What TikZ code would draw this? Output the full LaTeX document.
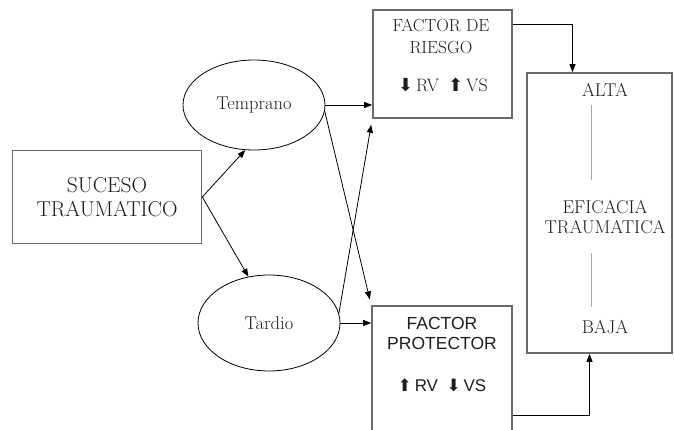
\documentclass[tikz,border=0pt]{standalone}
\usepackage{fontspec}
\newfontfamily\protfont{Liberation Sans}
\newfontfamily\arrfont{DejaVu Sans}
\usetikzlibrary{shapes.geometric,arrows.meta}

\definecolor{diagLine}{HTML}{6A6A6A}
\definecolor{diagText}{HTML}{1E1E1E}
\definecolor{diagScale}{HTML}{A8A8A8}

\newcommand{\arrDn}{{\arrfont ⬇}}
\newcommand{\arrUp}{{\arrfont ⬆}}

\begin{document}
\begin{tikzpicture}[x=1pt,y=-1pt,
  box/.style={draw=diagLine,line width=1.6pt,inner sep=0pt},
  oval/.style={draw=black,ellipse,line width=0.8pt,inner sep=0pt,text=diagText},
  arr/.style={-{Triangle[length=8pt,width=6pt]},line width=0.8pt},
  lbl/.style={text=diagText,align=center,inner sep=0pt},
  scaleline/.style={draw=diagScale,line width=0.8pt}]

  \useasboundingbox (0,0) rectangle (674,430);
  \clip (0,0) rectangle (674,430);

  % Boxes
  \node[box,lbl,minimum width=189,minimum height=93,
    font=\fontsize{21.5}{24}\selectfont] (suceso) at (107,197)
    {SUCESO\\TRAUMATICO};

  \node[box,minimum width=139,minimum height=108] (riesgo) at (442.5,64) {};
  \node[box,minimum width=140,minimum height=148] (protector) at (442,380) {};
  \node[box,minimum width=145,minimum height=280] (eficacia) at (599.5,213) {};

  % Ellipses
  \node[oval,minimum width=142,minimum height=90,
    font=\fontsize{18.5}{20}\selectfont] (temprano) at (254,105) {Temprano};
  \node[oval,minimum width=142,minimum height=96,
    font=\fontsize{18.5}{20}\selectfont] (tardio) at (269,323) {Tardio};

  % Box texts
  \node[lbl,font=\fontsize{17.5}{22}\selectfont] (riesgoname) at (441,36)
    {FACTOR DE\\RIESGO};
  \node[lbl,font=\fontsize{18}{19}\selectfont] (riesgoval) at (443,85)
    {\arrDn\,RV\enspace\arrUp\,VS};

  \node[lbl,font=\protfont\fontsize{17.5}{20}\selectfont] (protname) at (442,333)
    {FACTOR\\PROTECTOR};
  \node[lbl,font=\protfont\fontsize{17}{19}\selectfont] (protval) at (442,385)
    {\arrUp\,RV\enspace\arrDn\,VS};

  \node[lbl,font=\fontsize{18.5}{20}\selectfont] (alta) at (605,90) {ALTA};
  \node[lbl,font=\fontsize{18.5}{20}\selectfont] (eftxt) at (605,217)
    {EFICACIA\\TRAUMATICA};
  \node[lbl,font=\fontsize{18.5}{20}\selectfont] (baja) at (605,327) {BAJA};

  % Scale
  \draw[scaleline] (591,105) -- (591,180);
  \draw[scaleline] (591,253) -- (591,307);

  % Arrows
  \draw[arr] (suceso.east) -- (temprano.259);
  \draw[arr] (suceso.east) -- (tardio.114);

  \draw[arr] (temprano.east) -- (temprano.east -| riesgo.west);
  \draw[arr,shorten >=6pt] (temprano.-5) -- (protector.north west);
  \draw[arr] (tardio.east) -- (tardio.east -| protector.west);
  \draw[arr,shorten >=6pt] (tardio.8) -- (riesgo.south west);

  \draw[arr] ([yshift=-15pt]riesgo.north east) -| ([xshift=-27pt]eficacia.north);
  \draw[arr] ([yshift=-110pt]protector.north east) -| ([xshift=-10pt]eficacia.south);

\end{tikzpicture}
\end{document}
